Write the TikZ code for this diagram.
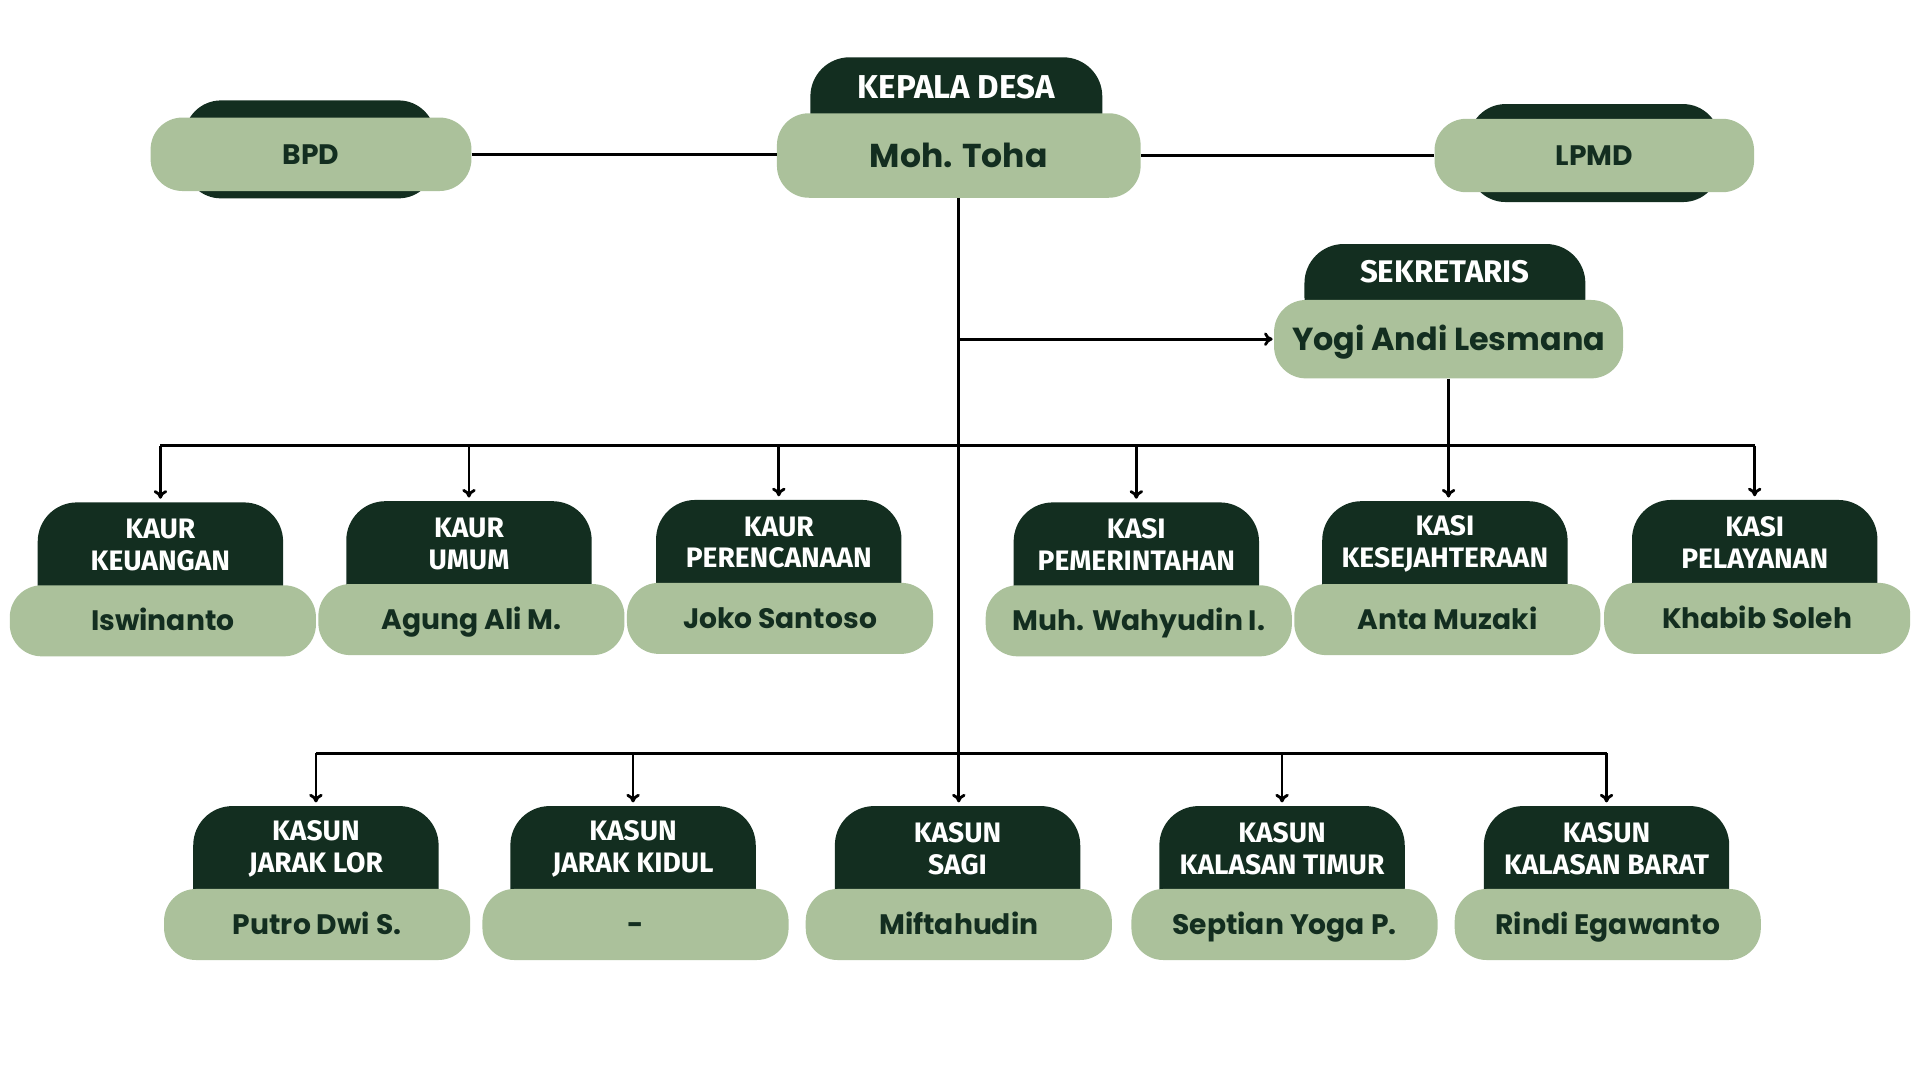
\documentclass[tikz,border=0pt]{standalone}
\usepackage{fontspec}
\usepackage{tikz}
\usetikzlibrary{arrows.meta,backgrounds}
\newfontfamily\popfont{Poppins}
\newfontfamily\firafont{Fira Sans}
\definecolor{pine}{HTML}{132E20}
\definecolor{sage}{HTML}{ABC19B}
\newcommand{\nmfont}{\popfont\bfseries\fontsize{23}{27}\selectfont}
\newcommand{\bignmfont}{\popfont\bfseries\fontsize{27}{31}\selectfont}
\newcommand{\hdfont}{\firafont\bfseries\fontsize{23}{26}\selectfont}
\newcommand{\bighdfont}{\firafont\bfseries\fontsize{27}{30}\selectfont}

\begin{document}
\begin{tikzpicture}[x=1pt,y=-1pt]
        \tikzset{head/.style = {text=white,font=\hdfont,align=center,minimum width=200,minimum height=69,inner sep=0}}
        \tikzset{bighead/.style = {head,font=\bighdfont}}
        \tikzset{headfill/.style = {fill=pine,rounded corners=32}}
        \tikzset{person/.style = {shape=rectangle,rounded corners=26,fill=sage,text=pine,font=\nmfont,minimum width=250,minimum height=58,text height=16pt,text depth=0pt}}
        \tikzset{bigperson/.style = {person,font=\bignmfont,text height=19pt}}
        \tikzset{back/.style = {shape=rectangle,rounded corners=30,fill=pine,minimum width=205,minimum height=80}}
        \tikzset{edge/.style = {-,line width=2.4}}
        \tikzset{arr/.style = {-{To[length=7pt,width=11pt]},line width=2.3,shorten >=3}}

        \useasboundingbox (0,0) rectangle (1568,882);

        \node[back] (bpdB) at (253,122) {};
        \node[person,minimum width=262,minimum height=60] (bpd) at (254,126) {BPD};
        \node[back] (lpmdB) at (1302,125) {};
        \node[person,minimum width=261,minimum height=60] (lpmd) at (1302,127) {LPMD};

        \node[bighead,minimum width=238,minimum height=48] (kdT) at (781,71) {KEPALA DESA};
        \node[bigperson,minimum width=297,minimum height=69] (kd) at (783,127) {Moh. Toha};

        \node[bighead,font=\firafont\bfseries\fontsize{25.5}{30}\selectfont,minimum width=229,minimum height=45] (sekT) at (1180,222) {SEKRETARIS};
        \node[bigperson,font=\popfont\bfseries\fontsize{26}{30}\selectfont,minimum width=285,minimum height=64] (sek) at (1183,277) {Yogi Andi Lesmana};

        \node[head] (kkT) at (131,445) {KAUR\\KEUANGAN};
        \node[person] (kk) at (133,507) {Iswinanto};
        \node[head] (kuT) at (383,444) {KAUR\\UMUM};
        \node[person] (ku) at (385,506) {Agung Ali M.};
        \node[head] (kpT) at (636,443) {KAUR\\PERENCANAAN};
        \node[person] (kp) at (637,505) {Joko Santoso};

        \node[head] (kpmT) at (928,445) {KASI\\PEMERINTAHAN};
        \node[person] (kpm) at (930,507) {Muh. Wahyudin I.};
        \node[head] (kksT) at (1180,444) {KASI\\KESEJAHTERAAN};
        \node[person] (kks) at (1182,506) {Anta Muzaki};
        \node[head] (kplT) at (1433,443) {KASI\\PELAYANAN};
        \node[person] (kpl) at (1435,505) {Khabib Soleh};

        \node[head] (jlT) at (258,693) {KASUN\\JARAK LOR};
        \node[person] (jl) at (259,755) {Putro Dwi S.};
        \node[head] (jkT) at (517,693) {KASUN\\JARAK KIDUL};
        \node[person] (jk) at (519,755) {-};
        \node[head] (sgT) at (782,693) {KASUN\\SAGI};
        \node[person] (sg) at (783,755) {Miftahudin};
        \node[head] (ktT) at (1047,693) {KASUN\\KALASAN TIMUR};
        \node[person] (kt) at (1049,755) {Septian Yoga P.};
        \node[head] (kbT) at (1312,693) {KASUN\\KALASAN BARAT};
        \node[person] (kb) at (1313,755) {Rindi Egawanto};

        \begin{scope}[on background layer]
        \fill[headfill] ([yshift=-30]kdT.south west) rectangle (kdT.north east);
        \fill[headfill] ([yshift=-30]sekT.south west) rectangle (sekT.north east);
        \fill[headfill] ([yshift=-30]kkT.south west) rectangle (kkT.north east);
        \fill[headfill] ([yshift=-30]kuT.south west) rectangle (kuT.north east);
        \fill[headfill] ([yshift=-30]kpT.south west) rectangle (kpT.north east);
        \fill[headfill] ([yshift=-30]kpmT.south west) rectangle (kpmT.north east);
        \fill[headfill] ([yshift=-30]kksT.south west) rectangle (kksT.north east);
        \fill[headfill] ([yshift=-30]kplT.south west) rectangle (kplT.north east);
        \fill[headfill] ([yshift=-30]jlT.south west) rectangle (jlT.north east);
        \fill[headfill] ([yshift=-30]jkT.south west) rectangle (jkT.north east);
        \fill[headfill] ([yshift=-30]sgT.south west) rectangle (sgT.north east);
        \fill[headfill] ([yshift=-30]ktT.south west) rectangle (ktT.north east);
        \fill[headfill] ([yshift=-30]kbT.south west) rectangle (kbT.north east);
        \end{scope}

        \coordinate (bus) at (783,364);
        \coordinate (bus2) at (783,615);

        \draw[edge] (bpd.east) -- (bpd.east -| kd.west);
        \draw[edge] (kd.east) -- (kd.east -| lpmd.west);
        \draw[arr] (kd.south) -- (kd.south |- sgT.north);
        \draw[arr,shorten >=1] (kd.south |- sek.west) -- (sek.west);

        \draw[edge] (bus -| kkT.north) -- (bus -| kplT.north);
        \draw[arr] (bus -| kkT.north) -- (kkT.north);
        \draw[arr] (bus -| kuT.north) -- (kuT.north);
        \draw[arr] (bus -| kpT.north) -- (kpT.north);
        \draw[arr] (bus -| kpmT.north) -- (kpmT.north);
        \draw[arr] (sek.south) -- (sek.south |- kksT.north);
        \draw[arr] (bus -| kplT.north) -- (kplT.north);

        \draw[edge] (bus2 -| jlT.north) -- (bus2 -| kbT.north);
        \draw[arr] (bus2 -| jlT.north) -- (jlT.north);
        \draw[arr] (bus2 -| jkT.north) -- (jkT.north);
        \draw[arr] (bus2 -| ktT.north) -- (ktT.north);
        \draw[arr] (bus2 -| kbT.north) -- (kbT.north);
\end{tikzpicture}
\end{document}
